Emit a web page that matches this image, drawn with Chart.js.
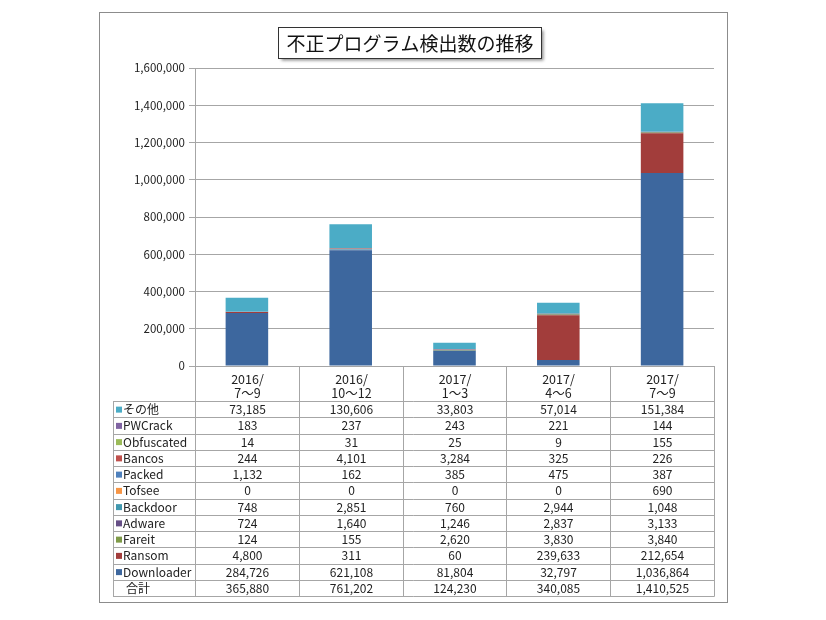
<!DOCTYPE html>
<html>
<head>
<meta charset="utf-8">
<script src="https://cdn.jsdelivr.net/npm/chart.js@4"></script>
<style>html,body{margin:0;background:#fff}</style>
</head>
<body>
<canvas id="kenshutsuChart" width="826" height="620"></canvas>
<script>
// 四半期ごとの不正プログラム検出数
const periods = [['2016/', '7〜9'], ['2016/', '10〜12'], ['2017/', '1〜3'], ['2017/', '4〜6'], ['2017/', '7〜9']];

const downloader = [284726, 621108, 81804, 32797, 1036864];
const ransom     = [4800, 311, 60, 239633, 212654];
const fareit     = [124, 155, 2620, 3830, 3840];
const adware     = [724, 1640, 1246, 2837, 3133];
const backdoor   = [748, 2851, 760, 2944, 1048];
const tofsee     = [0, 0, 0, 0, 690];
const packed     = [1132, 162, 385, 475, 387];
const bancos     = [244, 4101, 3284, 325, 226];
const obfuscated = [14, 31, 25, 9, 155];
const pwcrack    = [183, 237, 243, 221, 144];
const sonota     = [73185, 130606, 33803, 57014, 151384];
const totals     = [365880, 761202, 124230, 340085, 1410525];

const yTicks = [0, 200000, 400000, 600000, 800000, 1000000, 1200000, 1400000, 1600000];

// bottom of the stack first
const series = [
    ['Downloader', downloader, '#3d679e'],
    ['Ransom', ransom, '#a23d3b'],
    ['Fareit', fareit, '#7f9b48'],
    ['Adware', adware, '#664f86'],
    ['Backdoor', backdoor, '#4198af'],
    ['Tofsee', tofsee, '#f79646'],
    ['Packed', packed, '#4f81bd'],
    ['Bancos', bancos, '#c0504d'],
    ['Obfuscated', obfuscated, '#9bbb59'],
    ['PWCrack', pwcrack, '#8064a2'],
    ['その他', sonota, '#4bacc6']
];

const fontFamily = '"Noto Sans CJK JP", "Liberation Sans", sans-serif';
const lineColor = '#a6a6a6';
const tableLeft = 113;
const headerBottom = 401;
const tableBottom = 596;

const fmt = v => v.toLocaleString('en-US');

const tablePlugin = {
    id: 'tablePlugin',
    beforeDraw(chart) {
        const c = chart.ctx;
        c.save();
        c.fillStyle = '#fff';
        c.fillRect(0, 0, chart.width, chart.height);
        c.strokeStyle = '#8c8c8c';
        c.lineWidth = 1;
        c.strokeRect(99.5, 12.5, 628, 590);
        c.restore();
    },
    afterDraw(chart) {
        const c = chart.ctx;
        const xs = chart.scales.x;
        const area = chart.chartArea;
        const n = periods.length;
        const bounds = [];
        for (let i = 0; i <= n; i++) bounds.push(Math.round(xs.getPixelForValue(i - 0.5)) + 0.5);
        const right = bounds[n];

        c.save();
        c.strokeStyle = lineColor;
        c.lineWidth = 1;

        // vertical lines
        bounds.forEach(x => {
            c.beginPath();
            c.moveTo(x, area.bottom);
            c.lineTo(x, tableBottom + 0.5);
            c.stroke();
        });
        c.beginPath();
        c.moveTo(tableLeft + 0.5, headerBottom + 0.5);
        c.lineTo(tableLeft + 0.5, tableBottom + 0.5);
        c.stroke();

        // horizontal lines
        const rows = series.slice().reverse();
        const rowCount = rows.length + 1;
        const rowH = (tableBottom - headerBottom) / rowCount;
        for (let r = 0; r <= rowCount; r++) {
            const y = Math.round(headerBottom + r * rowH) + 0.5;
            c.beginPath();
            c.moveTo(tableLeft, y);
            c.lineTo(right, y);
            c.stroke();
        }

        // header labels
        c.fillStyle = '#222';
        c.textAlign = 'center';
        c.textBaseline = 'middle';
        c.font = '12.5px ' + fontFamily;
        periods.forEach((p, i) => {
            const cx = (bounds[i] + bounds[i + 1]) / 2;
            c.fillText(p[0], cx, area.bottom + 13);
            c.fillText(p[1], cx, area.bottom + 27);
        });

        // rows
        c.font = '12px ' + fontFamily;
        rows.forEach((s, r) => {
            const cy = headerBottom + (r + 0.5) * rowH + 0.5;
            c.fillStyle = s[2];
            c.fillRect(tableLeft + 3, cy - 3, 6, 6);
            c.fillStyle = '#222';
            c.textAlign = 'left';
            c.fillText(s[0], tableLeft + 10, cy);
            c.textAlign = 'center';
            s[1].forEach((v, i) => c.fillText(fmt(v), (bounds[i] + bounds[i + 1]) / 2, cy));
        });
        const ty = headerBottom + (rowCount - 0.5) * rowH + 0.5;
        c.textAlign = 'left';
        c.fillText('合計', tableLeft + 13, ty);
        c.textAlign = 'center';
        totals.forEach((v, i) => c.fillText(fmt(v), (bounds[i] + bounds[i + 1]) / 2, ty));

        // title box
        const title = '不正プログラム検出数の推移';
        c.font = '19px ' + fontFamily;
        const tw = c.measureText(title).width;
        const bx = Math.round(410 - tw / 2 - 8) + 0.5, by = 27.5, bw = Math.round(tw + 16), bh = 31;
        c.save();
        c.shadowColor = 'rgba(0,0,0,0.45)';
        c.shadowBlur = 3;
        c.shadowOffsetX = 2;
        c.shadowOffsetY = 2;
        c.fillStyle = '#fff';
        c.fillRect(bx, by, bw, bh);
        c.restore();
        c.strokeStyle = '#333';
        c.strokeRect(bx, by, bw, bh);
        c.fillStyle = '#111';
        c.textAlign = 'center';
        c.fillText(title, 410, by + bh / 2 + 1);
        c.restore();
    }
};

new Chart(document.getElementById('kenshutsuChart'), {
    type: 'bar',
    data: {
        labels: periods.map(p => p.join('')),
        datasets: series.map(s => ({
            label: s[0],
            data: s[1],
            backgroundColor: s[2],
            categoryPercentage: 1,
            barPercentage: 0.41
        }))
    },
    options: {
        responsive: false,
        animation: false,
        layout: { padding: { left: 100, right: 112, top: 68, bottom: 24 } },
        plugins: {
            legend: { display: false },
            tooltip: { enabled: false }
        },
        scales: {
            x: {
                stacked: true,
                grid: { display: false },
                ticks: { display: false },
                border: { color: lineColor },
                afterFit: s => { s.height = tableBottom - 366; }
            },
            y: {
                stacked: true,
                min: 0,
                max: 1600000,
                afterBuildTicks: s => { s.ticks = yTicks.map(v => ({ value: v })); },
                afterFit: s => { s.width = 95; },
                grid: { color: lineColor, tickLength: 6 },
                border: { color: lineColor },
                ticks: {
                    color: '#222',
                    padding: 4,
                    font: { family: fontFamily, size: 11.5 },
                    callback: v => fmt(v)
                }
            }
        }
    },
    plugins: [tablePlugin]
});
</script>
</body>
</html>
